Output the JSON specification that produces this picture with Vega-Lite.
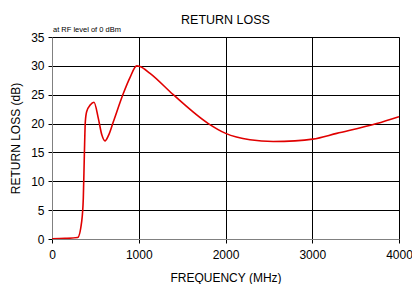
{
  "$schema": "https://vega.github.io/schema/vega-lite/v6.json",
  "width": 347,
  "height": 202,
  "autosize": "none",
  "padding": {"left": 52, "top": 37, "right": 13, "bottom": 45},
  "background": "white",
  "config": {
    "font": "Liberation Sans",
    "view": {"stroke": "#808080", "strokeWidth": 1}
  },
  "title": {"text": "RETURN LOSS", "fontSize": 12.5, "fontWeight": "normal", "color": "#000", "anchor": "middle", "offset": 0, "font": "Liberation Sans"},
  "data": {"values": [
    {"f": 0, "rl": 0.05},
    {"f": 150, "rl": 0.1},
    {"f": 296, "rl": 0.25},
    {"f": 342, "rl": 3.0},
    {"f": 361, "rl": 7.1},
    {"f": 373, "rl": 14.6},
    {"f": 384, "rl": 20.3},
    {"f": 400, "rl": 22.1},
    {"f": 440, "rl": 23.2},
    {"f": 484, "rl": 23.7},
    {"f": 534, "rl": 20.9},
    {"f": 575, "rl": 18.0},
    {"f": 611, "rl": 17.0},
    {"f": 650, "rl": 17.9},
    {"f": 707, "rl": 20.3},
    {"f": 822, "rl": 25.2},
    {"f": 900, "rl": 28.0},
    {"f": 976, "rl": 30.0},
    {"f": 1014, "rl": 29.9},
    {"f": 1130, "rl": 28.7},
    {"f": 1398, "rl": 25.0},
    {"f": 1802, "rl": 20.0},
    {"f": 2002, "rl": 18.3},
    {"f": 2282, "rl": 17.2},
    {"f": 2550, "rl": 16.9},
    {"f": 2800, "rl": 17.0},
    {"f": 3005, "rl": 17.3},
    {"f": 3282, "rl": 18.3},
    {"f": 3743, "rl": 20.0},
    {"f": 4000, "rl": 21.2}
  ]},
  "encoding": {
    "x": {"field": "f", "type": "quantitative",
      "scale": {"domain": [0, 4000], "nice": false},
      "axis": {"values": [0, 1000, 2000, 3000, 4000], "format": "d", "title": "FREQUENCY (MHz)", "titleFontSize": 12, "titleFontWeight": "normal", "titleColor": "#000", "titlePadding": 12,
        "labelFontSize": 12, "labelColor": "#000", "labelPadding": 6, "tickSize": 4, "tickColor": "#000", "domainColor": "#808080",
        "grid": true, "gridColor": "#000", "gridOpacity": 1, "labelFlush": false, "labelOverlap": false}},
    "y": {"field": "rl", "type": "quantitative",
      "scale": {"domain": [0, 35], "nice": false},
      "axis": {"values": [0, 5, 10, 15, 20, 25, 30, 35], "title": "RETURN LOSS (dB)", "titleFontSize": 12, "titleFontWeight": "normal", "titleColor": "#000", "titlePadding": 8,
        "labelFontSize": 12, "labelColor": "#000", "labelPadding": 4, "tickSize": 4, "tickColor": "#000", "domainColor": "#808080",
        "grid": true, "gridColor": "#000", "gridOpacity": 1, "labelOverlap": false}}
  },
  "layer": [
    {
      "mark": {"type": "line", "color": "#e00000", "strokeWidth": 1.6, "interpolate": "monotone", "clip": true}
    },
    {
      "data": {"values": [{"f": 0, "rl": 35, "label": "at RF level of 0 dBm"}]},
      "mark": {"type": "text", "align": "left", "baseline": "bottom", "fontSize": 7.5, "dy": -3, "dx": 1, "color": "#000", "font": "Liberation Sans", "fontWeight": "normal"},
      "encoding": {
        "text": {"field": "label"}
      }
    }
  ]
}
